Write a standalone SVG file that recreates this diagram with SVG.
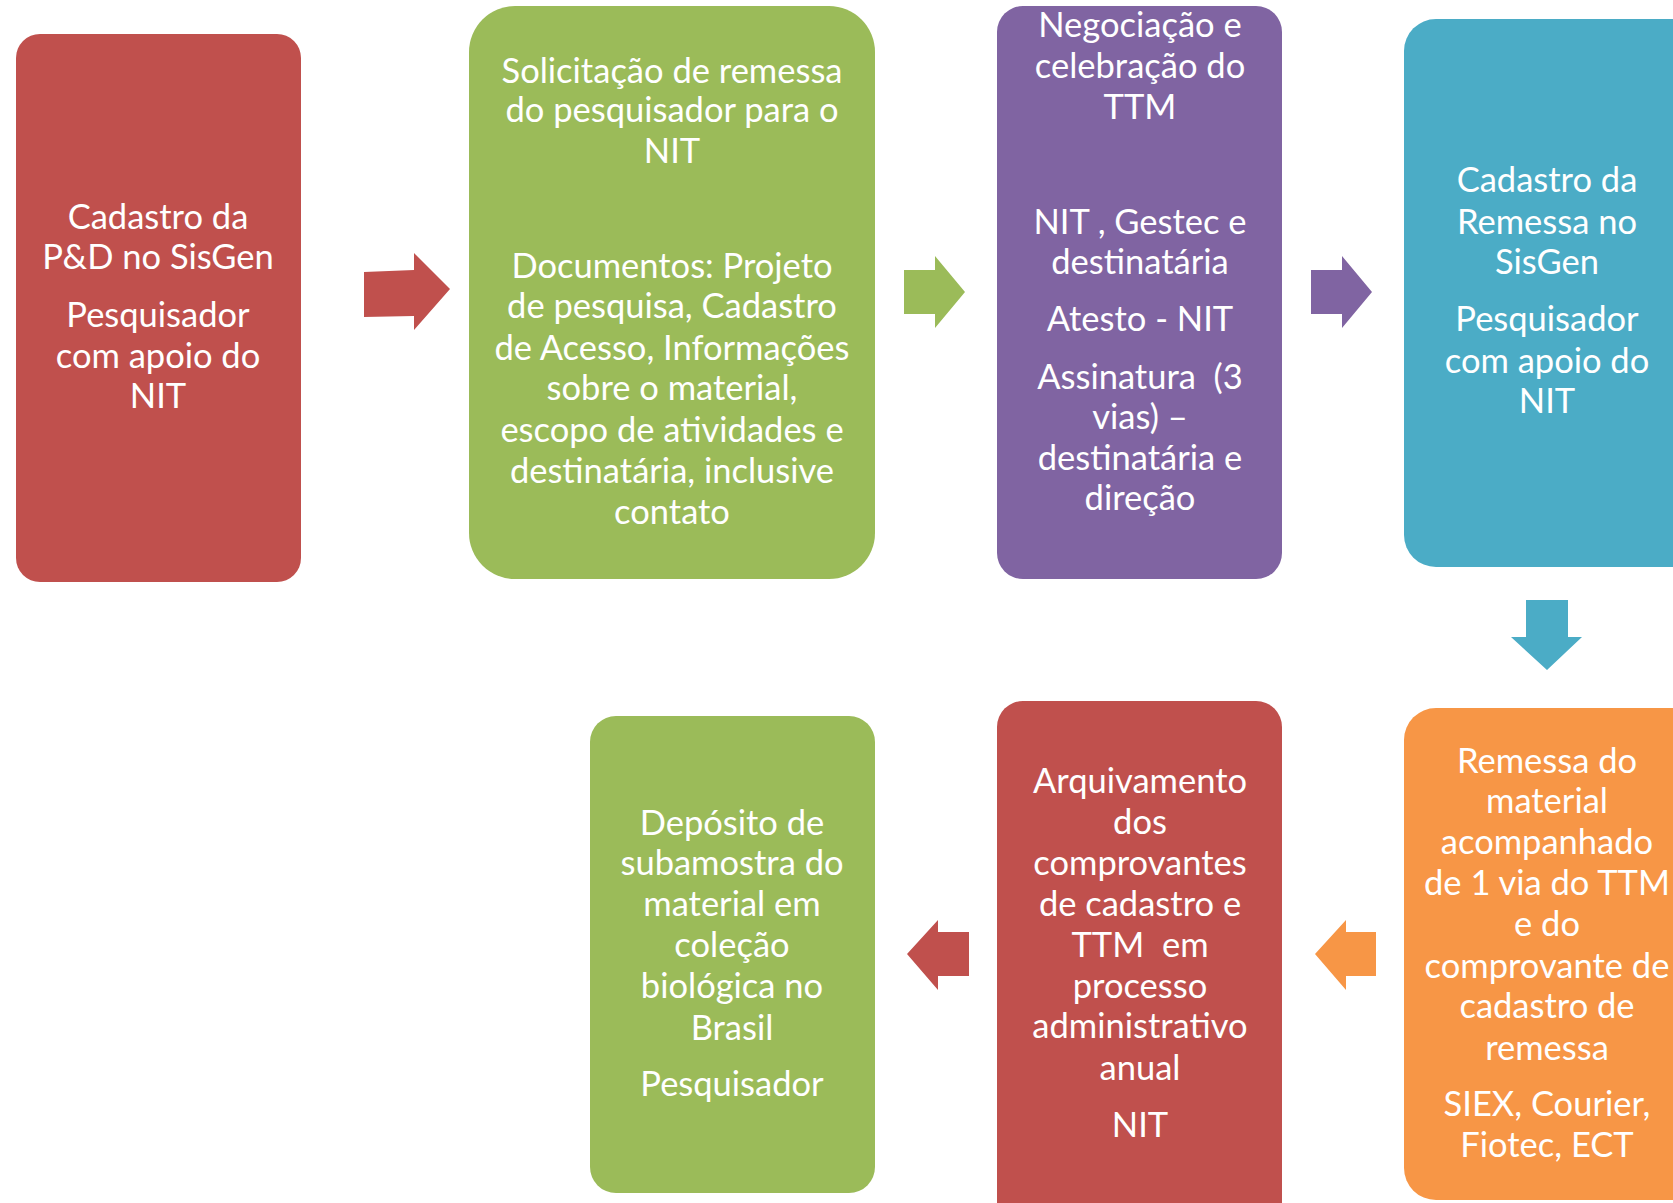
<svg xmlns="http://www.w3.org/2000/svg" width="1673" height="1203" viewBox="0 0 1673 1203">
<style>
text{font-family:Lato,"Liberation Sans",sans-serif;font-size:34.5px;fill:#fff;text-anchor:middle;white-space:pre}
.red{fill:#C0504D}.green{fill:#9BBB59}.purple{fill:#8064A2}.teal{fill:#4BACC6}.orange{fill:#F79646}
</style>
<rect width="1673" height="1203" fill="#fff"/>
<g id="n1"><rect class="red" x="16" y="34" width="285" height="548" rx="24"/>
<text x="158" y="229">Cadastro da</text><text x="158" y="269">P&amp;D no SisGen</text><text x="158" y="327">Pesquisador</text><text x="158" y="368">com apoio do</text><text x="158" y="408">NIT</text></g>
<g id="n2"><rect class="green" x="469" y="6" width="406" height="573" rx="46"/>
<text x="672" y="83">Solicitação de remessa</text><text x="672" y="122">do pesquisador para o</text><text x="672" y="163">NIT</text>
<text x="672" y="278">Documentos: Projeto</text><text x="672" y="318">de pesquisa, Cadastro</text><text x="672" y="360">de Acesso, Informações</text><text x="672" y="400">sobre o material,</text><text x="672" y="442">escopo de atividades e</text><text x="672" y="483">destinatária, inclusive</text><text x="672" y="524">contato</text></g>
<g id="n3"><rect class="purple" x="997" y="6" width="285" height="573" rx="26"/>
<text x="1140" y="37">Negociação e</text><text x="1140" y="78">celebração do</text><text x="1140" y="119">TTM</text>
<text x="1140" y="234">NIT , Gestec e</text><text x="1140" y="274">destinatária</text><text x="1140" y="331">Atesto - NIT</text>
<text x="1140" y="389">Assinatura  (3</text><text x="1140" y="429">vias) –</text><text x="1140" y="470">destinatária e</text><text x="1140" y="510">direção</text></g>
<g id="n4"><rect class="teal" x="1404" y="19" width="300" height="548" rx="32"/>
<text x="1547" y="192">Cadastro da</text><text x="1547" y="234">Remessa no</text><text x="1547" y="274">SisGen</text>
<text x="1547" y="331">Pesquisador</text><text x="1547" y="373">com apoio do</text><text x="1547" y="413">NIT</text></g>
<g id="n5"><rect class="orange" x="1404" y="708" width="300" height="492" rx="32"/>
<text x="1547" y="773">Remessa do</text><text x="1547" y="813">material</text><text x="1547" y="854">acompanhado</text><text x="1547" y="895">de 1 via do TTM</text><text x="1547" y="936">e do</text><text x="1547" y="978">comprovante de</text><text x="1547" y="1018">cadastro de</text><text x="1547" y="1060">remessa</text>
<text x="1547" y="1116">SIEX, Courier,</text><text x="1547" y="1157">Fiotec, ECT</text></g>
<g id="n6"><rect class="red" x="997" y="701" width="285" height="530" rx="26"/>
<text x="1140" y="793">Arquivamento</text><text x="1140" y="834">dos</text><text x="1140" y="875">comprovantes</text><text x="1140" y="916">de cadastro e</text><text x="1140" y="957">TTM  em</text><text x="1140" y="998">processo</text><text x="1140" y="1038">administrativo</text><text x="1140" y="1080">anual</text>
<text x="1140" y="1137">NIT</text></g>
<g id="n7"><rect class="green" x="590" y="716" width="285" height="477" rx="26"/>
<text x="732" y="835">Depósito de</text><text x="732" y="875">subamostra do</text><text x="732" y="916">material em</text><text x="732" y="957">coleção</text><text x="732" y="998">biológica no</text><text x="732" y="1040">Brasil</text>
<text x="732" y="1096">Pesquisador</text></g>
<g id="connectors">
<polygon class="red" points="364,272 414,270 414,253 450,289 414,330 414,316 364,317"/>
<polygon class="green" points="904,270 935,270 935,256 965,292 935,328 935,314 904,314"/>
<polygon class="purple" points="1311,270 1342,270 1342,256 1372,292 1342,328 1342,314 1311,314"/>
<polygon class="teal" points="1526,600 1568,600 1568,637 1582,637 1547,670 1511,637 1526,637"/>
<polygon class="orange" points="1376,932 1376,976 1346,976 1346,990 1315,954 1346,920 1346,932"/>
<polygon class="red" points="969,932 969,976 938,976 938,990 907,954 938,920 938,932"/>
</g>
</svg>
